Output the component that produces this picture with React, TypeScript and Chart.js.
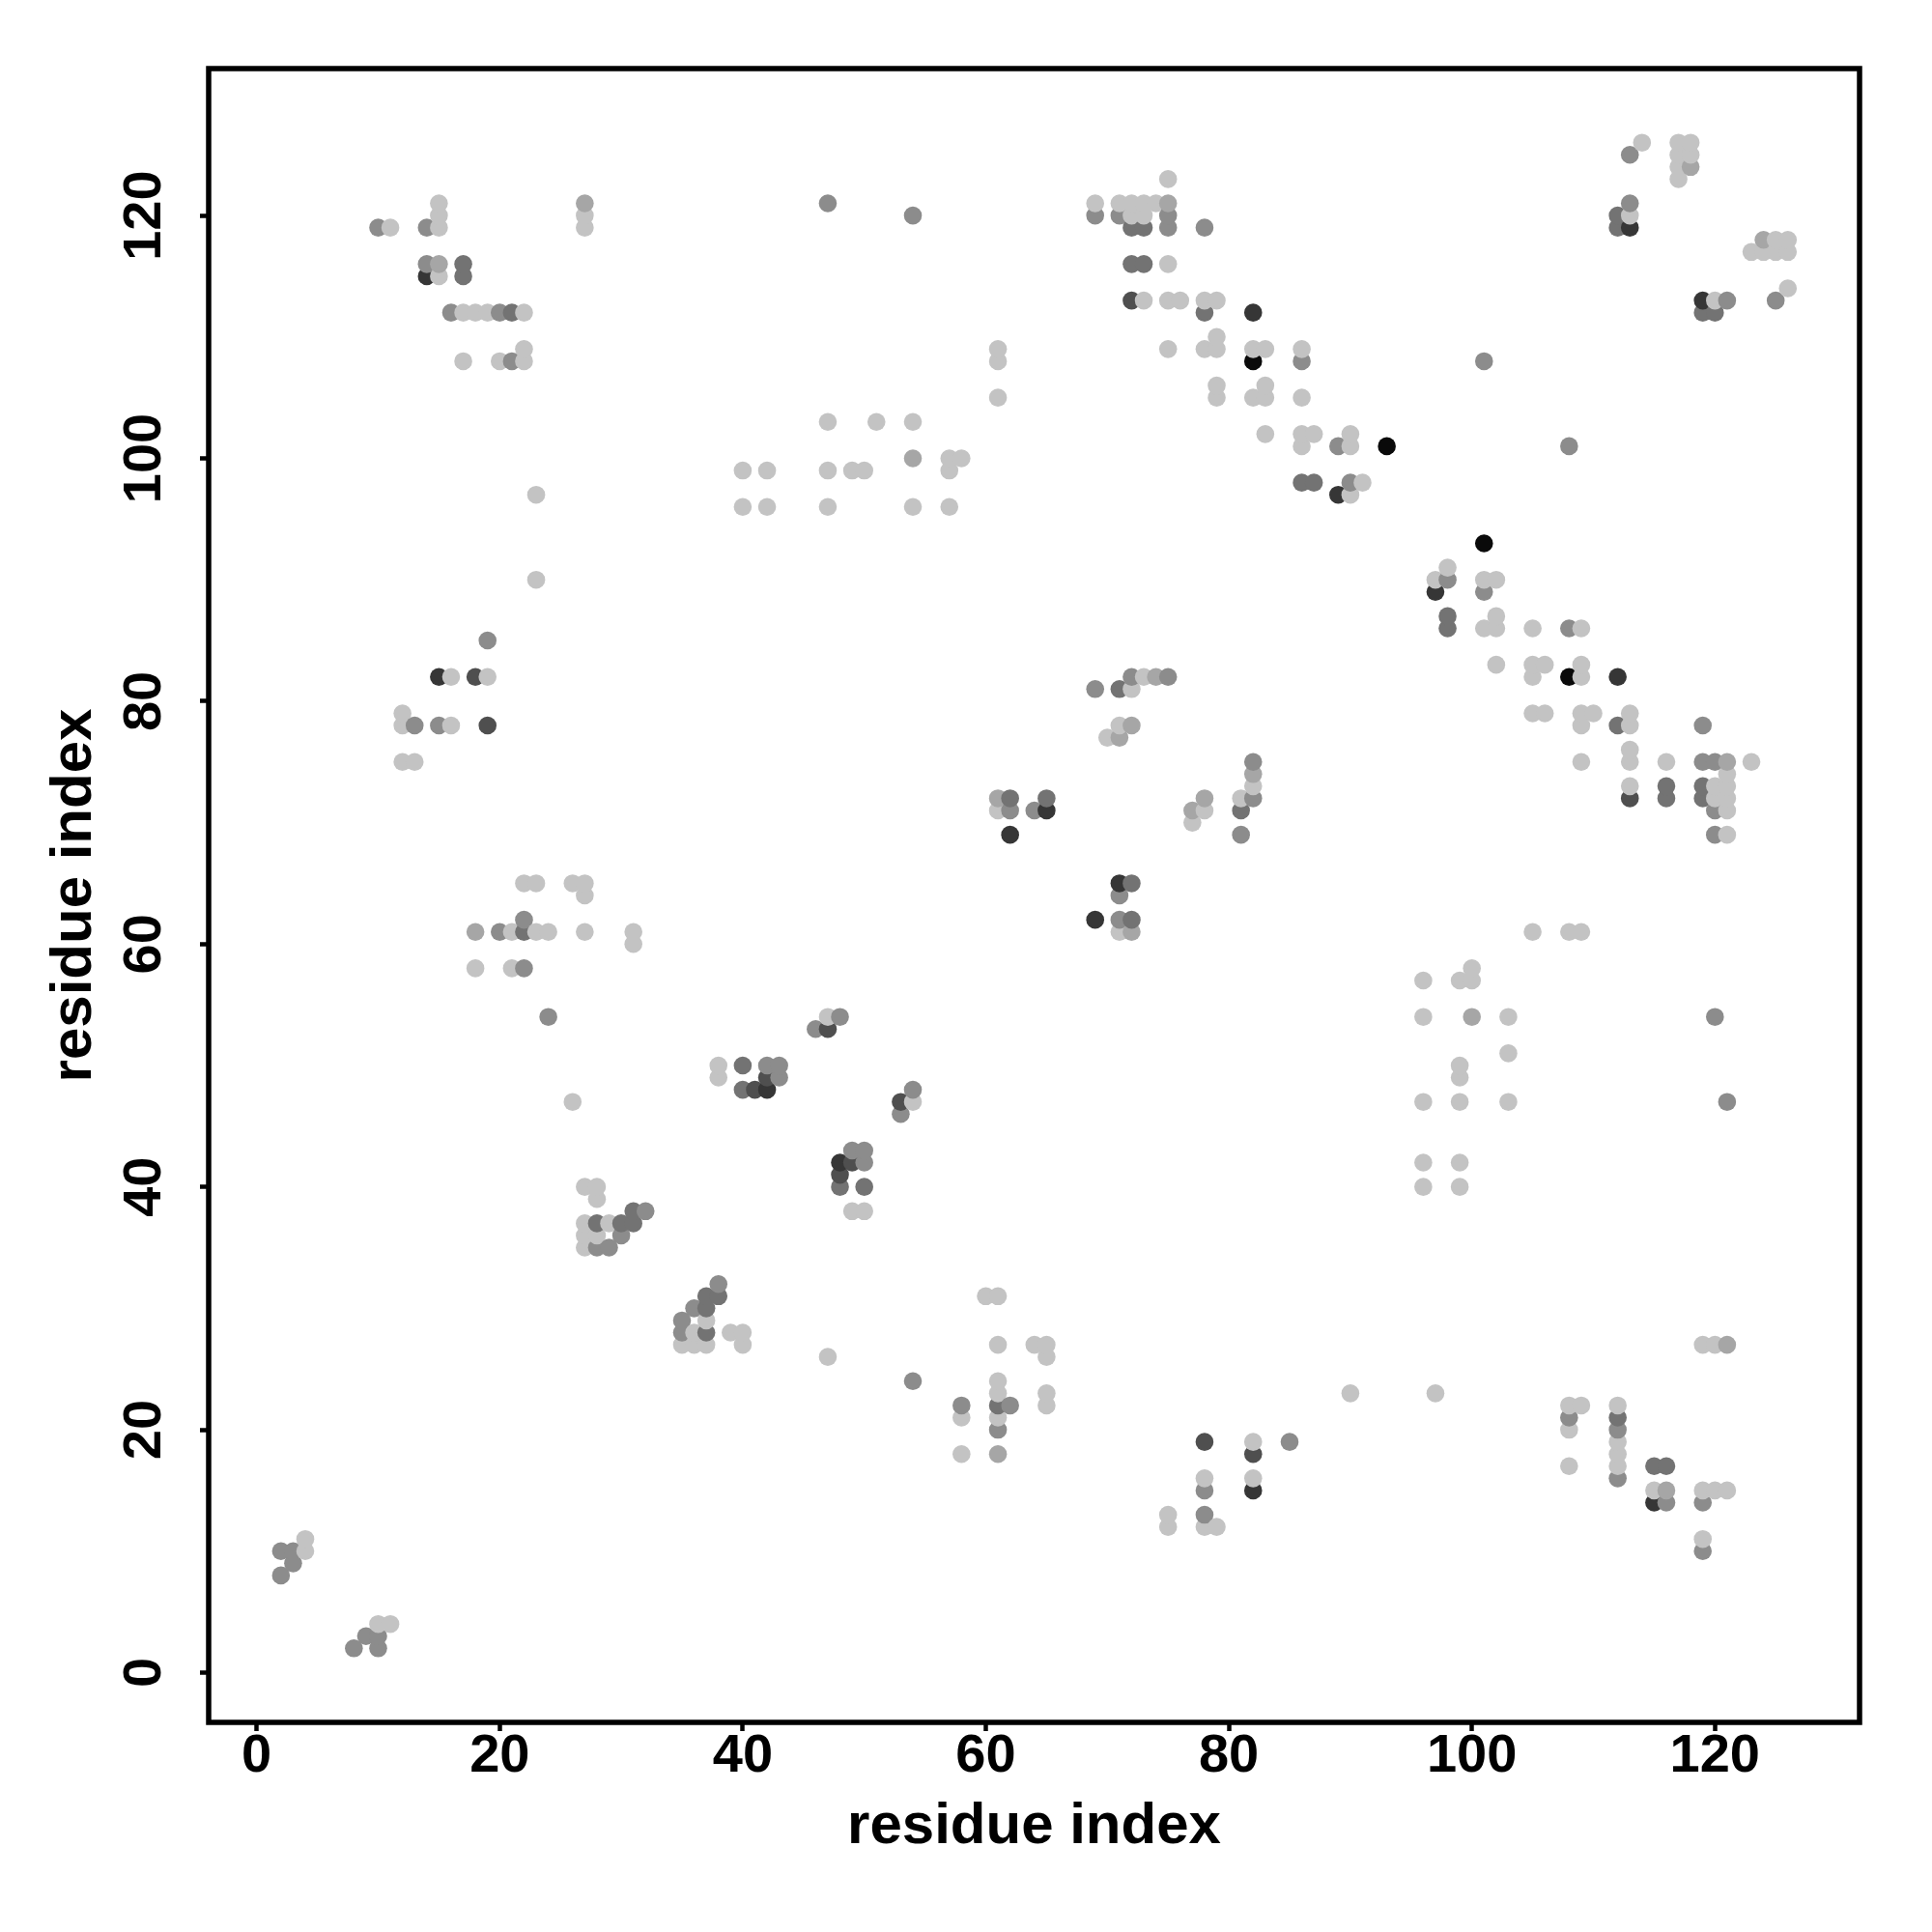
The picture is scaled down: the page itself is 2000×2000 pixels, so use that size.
import React, { useEffect, useRef } from "react";
import { Chart, registerables } from "chart.js";

Chart.register(...registerables);

// Grey shade per contact level (0 = lightest ... 6 = black)
const levelColors = ["#c3c3c3", "#a6a6a6", "#8c8c8c", "#737373", "#4f4f4f", "#363636", "#0a0a0a"];

// Contact pairs [i, j] with i < j; the map is symmetric, each pair is drawn at (i,j) and (j,i)
const lightContacts: [number, number][] = [
  [4, 10], [4, 11],
  [11, 119], [15, 115], [15, 119], [15, 120], [15, 121], [17, 108], [17, 112], [18, 112], [19, 112],
  [20, 108], [22, 108], [22, 109], [22, 112], [27, 119], [27, 120],
  [23, 90], [23, 97],
  [12, 75], [12, 78], [12, 79], [13, 75], [16, 78], [16, 82], [19, 82],
  [18, 58], [21, 58], [21, 61], [22, 65], [23, 61], [23, 65], [24, 61], [26, 47], [26, 65], [27, 61],
  [27, 64], [27, 65], [31, 60], [31, 61],
  [27, 35], [27, 36], [27, 37], [27, 40], [28, 36], [28, 39], [28, 40], [29, 37],
  [38, 49], [38, 50], [47, 54],
  [40, 96], [40, 99], [42, 96], [42, 99], [47, 96], [47, 99], [47, 103], [49, 99], [50, 99], [51, 103],
  [54, 96], [54, 103], [57, 96], [57, 99], [57, 100], [58, 100],
  [61, 105], [61, 108], [61, 109],
  [61, 71], [70, 77], [71, 78], [72, 81], [73, 82],
  [69, 121], [71, 121], [72, 120], [72, 121], [73, 113], [73, 120], [73, 121], [74, 121], [75, 113],
  [75, 116], [75, 123], [76, 113], [78, 113], [79, 113],
  [75, 109], [78, 109], [79, 105], [79, 106], [79, 109], [79, 110], [82, 105], [82, 109], [83, 102],
  [83, 105], [83, 106], [83, 109], [86, 101], [86, 102], [86, 105], [86, 109], [87, 102], [90, 97],
  [90, 101], [90, 102], [91, 98],
  [113, 120], [114, 126], [117, 123], [117, 124], [117, 125], [117, 126], [118, 125], [118, 126],
];

const lightMediumContacts: [number, number][] = [
  [15, 116], [27, 121], [18, 61], [61, 72], [71, 77], [74, 82], [54, 100], [75, 121], [118, 124], [72, 78],
];

const mediumContacts: [number, number][] = [
  [2, 8], [2, 10], [3, 9], [3, 10], [10, 119], [14, 116], [14, 119], [16, 112], [20, 112], [21, 108],
  [19, 85], [13, 78], [15, 78], [20, 61], [22, 58], [22, 62], [24, 54], [28, 35], [29, 35], [30, 36],
  [32, 38], [42, 50], [43, 49], [43, 50], [46, 53], [48, 54], [47, 121], [54, 120], [69, 120], [71, 120],
  [75, 119], [75, 120], [78, 119], [62, 71], [64, 71], [69, 81], [72, 82], [75, 82], [86, 108], [89, 101],
  [90, 98], [101, 108], [113, 121], [113, 125],
];

const mediumDarkContacts: [number, number][] = [
  [17, 115], [17, 116], [21, 112], [22, 61], [28, 37], [30, 37], [31, 37], [31, 38], [40, 48], [40, 50],
  [62, 72], [65, 72], [71, 81], [72, 116], [72, 119], [73, 116], [73, 119], [78, 112], [86, 98], [87, 98],
  [112, 119], [112, 120],
];

const darkContacts: [number, number][] = [
  [18, 82], [19, 78], [41, 48], [42, 49], [47, 53], [72, 113],
];

const veryDarkContacts: [number, number][] = [
  [14, 115], [15, 82], [42, 48], [62, 69], [65, 71], [82, 112], [89, 97], [113, 119],
];

const blackContacts: [number, number][] = [
  [82, 108], [93, 101],
];

const axisTicks = [0, 20, 40, 60, 80, 100, 120];
const axisTitle = "residue index";

function buildPoints() {
  const groups = [
    lightContacts,
    lightMediumContacts,
    mediumContacts,
    mediumDarkContacts,
    darkContacts,
    veryDarkContacts,
    blackContacts,
  ];
  const pts: { x: number; y: number; level: number }[] = [];
  groups.forEach((pairs, level) => {
    pairs.forEach(([i, j]) => {
      pts.push({ x: i, y: j, level });
      pts.push({ x: j, y: i, level });
    });
  });
  pts.sort((a, b) => a.x - b.x || a.y - b.y);
  return pts;
}

const FONT = '"Liberation Sans", Arial, Helvetica, sans-serif';

const framePlugin = {
  id: "frame",
  afterDraw(chart: any) {
    const { ctx, chartArea } = chart;
    const { left, top, right, bottom } = chartArea;
    ctx.save();
    ctx.lineWidth = 5.5;
    ctx.strokeStyle = "#000";
    ctx.strokeRect(left, top, right - left, bottom - top);
    ctx.restore();
  },
};

export default function App() {
  const ref = useRef<HTMLCanvasElement | null>(null);

  useEffect(() => {
    if (!ref.current) return;
    const pts = buildPoints();
    const chart = new Chart(ref.current, {
      type: "scatter",
      data: {
        datasets: [
          {
            data: pts,
            pointRadius: 9.3,
            pointHoverRadius: 9.3,
            pointBorderWidth: 0,
            borderWidth: 0,
            pointBackgroundColor: pts.map((p) => levelColors[p.level]),
            pointBorderColor: "rgba(0,0,0,0)",
          } as any,
        ],
      },
      options: {
        responsive: false,
        animation: false,
        events: [],
        layout: { padding: { left: 0, top: 71, right: 75, bottom: 0 } },
        plugins: {
          legend: { display: false },
          tooltip: { enabled: false },
        },
        scales: {
          x: {
            type: "linear",
            min: -3.95,
            max: 131.9,
            afterBuildTicks: (s: any) => {
              s.ticks = axisTicks.map((v) => ({ value: v }));
            },
            afterFit: (s: any) => {
              s.height = 217;
            },
            border: { display: false },
            grid: {
              drawOnChartArea: false,
              drawTicks: true,
              tickLength: 9,
              tickWidth: 4.5,
              tickColor: "#000",
            },
            ticks: {
              color: "#000",
              autoSkip: false,
              maxRotation: 0,
              minRotation: 0,
              padding: -7,
              font: { family: FONT, size: 56, weight: "bold" },
            },
            title: {
              display: true,
              text: axisTitle,
              color: "#000",
              font: { family: FONT, size: 60, weight: "bold" },
              padding: { top: 73, bottom: 73 },
            },
          },
          y: {
            type: "linear",
            min: -4.1,
            max: 132.1,
            afterBuildTicks: (s: any) => {
              s.ticks = axisTicks.map((v) => ({ value: v }));
            },
            afterFit: (s: any) => {
              s.width = 216;
            },
            border: { display: false },
            grid: {
              drawOnChartArea: false,
              drawTicks: true,
              tickLength: 9,
              tickWidth: 4.5,
              tickColor: "#000",
            },
            ticks: {
              color: "#000",
              autoSkip: false,
              minRotation: 90,
              maxRotation: 90,
              crossAlign: "center",
              padding: 10,
              font: { family: FONT, size: 56, weight: "bold" },
            },
            title: {
              display: true,
              text: axisTitle,
              color: "#000",
              font: { family: FONT, size: 60, weight: "bold" },
              padding: { top: 41, bottom: 41 },
            },
          },
        },
      } as any,
      plugins: [framePlugin],
    });
    return () => chart.destroy();
  }, []);

  return (
    <div style={{ position: "absolute", left: 0, top: 0, width: 2000, height: 2000, background: "#fff" }}>
      <canvas ref={ref} width={2000} height={2000} style={{ width: 2000, height: 2000, display: "block" }} />
    </div>
  );
}
